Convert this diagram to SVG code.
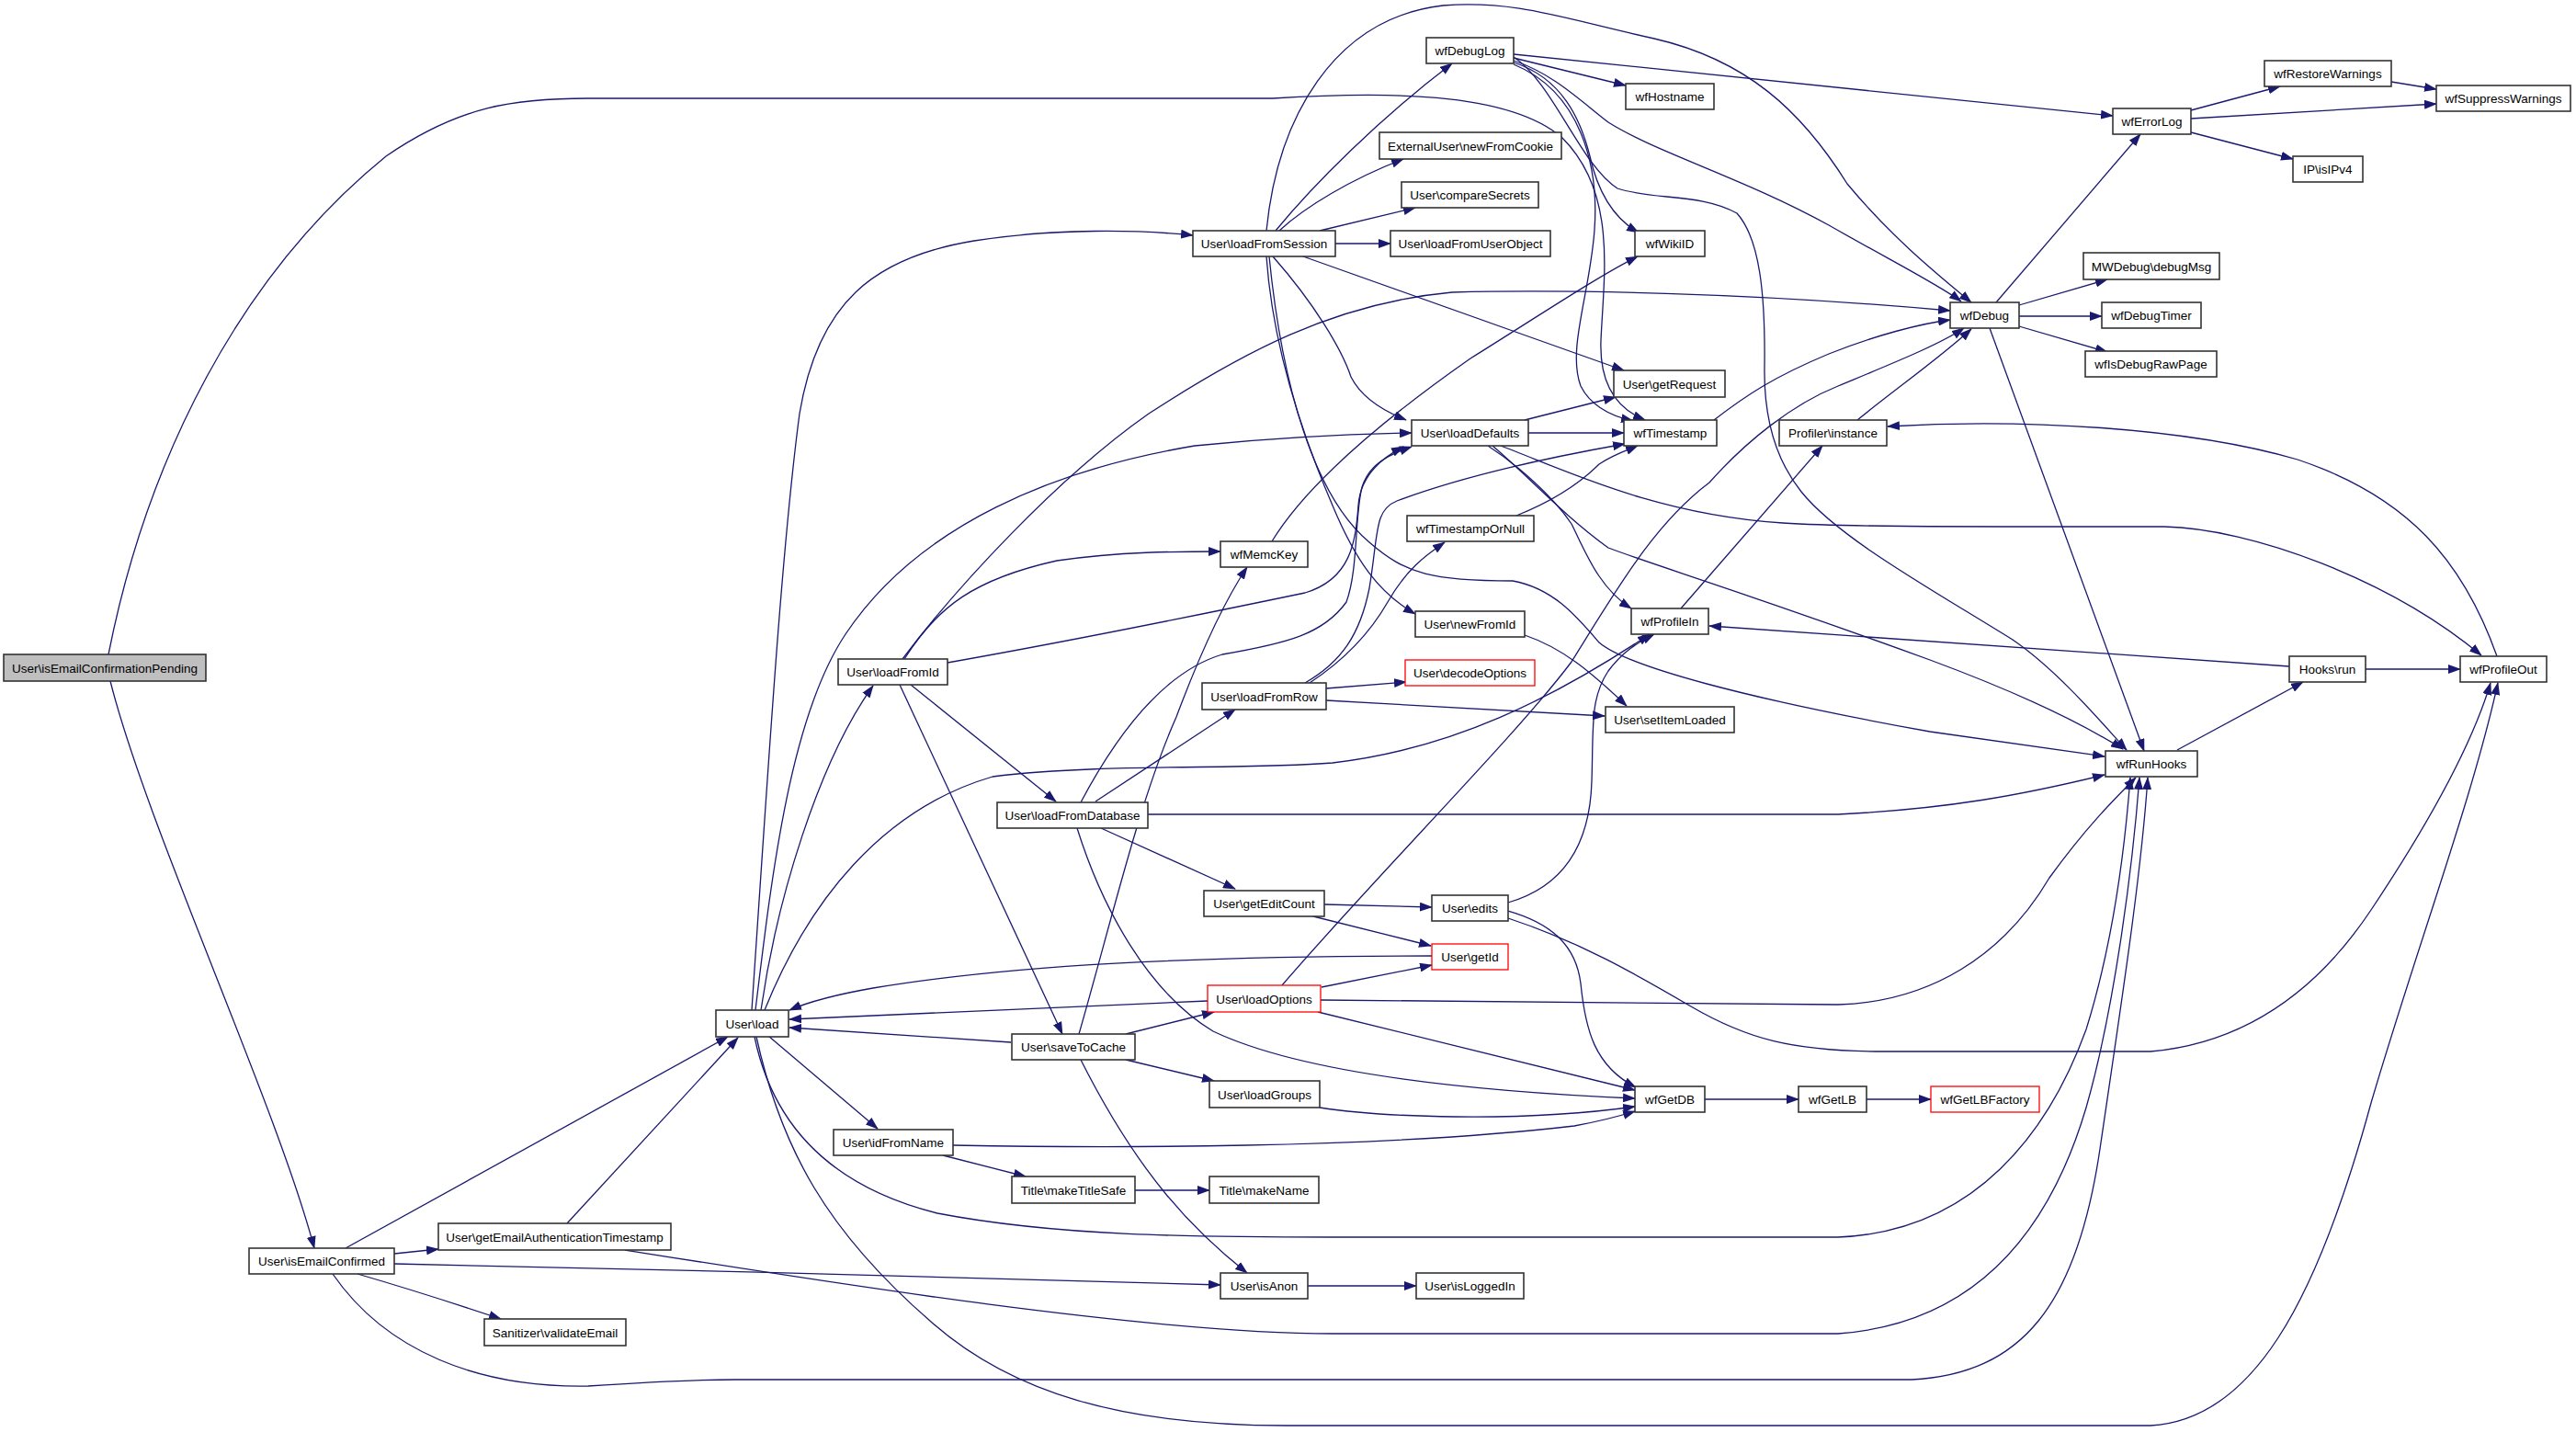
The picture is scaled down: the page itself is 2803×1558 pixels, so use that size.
<svg xmlns="http://www.w3.org/2000/svg" width="2803" height="1558" viewBox="0 0 2803 1558">
<style>
.n rect{fill:#fff;stroke:#333;stroke-width:1.6}
.n.r rect{stroke:#ff0000;stroke-width:1.3}
.n.root rect{fill:#bfbfbf}
.n text{font-family:"Liberation Sans",Arial,sans-serif;font-size:13.5px;text-anchor:middle;fill:#000}
.e path{fill:none;stroke:#191970;stroke-width:1.3;marker-end:url(#a)}
</style>
<defs>
<marker id="a" markerWidth="14" markerHeight="10" refX="13" refY="5" orient="auto" markerUnits="userSpaceOnUse"><path d="M0,0 L14,5 L0,10 z" fill="#191970"/></marker>
</defs>
<rect width="2803" height="1558" fill="#fff"/>
<g id="edges" class="e">
<path d="M118,712 C160,500 260,300 420,170 C500,115 560,107 640,107 L1385,107 C1500,100 1640,98 1700,150 C1760,210 1745,300 1742,370 C1740,420 1760,445 1790,457"/>
<path d="M120,741 C160,900 300,1200 342,1358"/>
<path d="M376,1358 L792,1128"/>
<path d="M617,1331 L803,1129"/>
<path d="M429,1364 L477,1359"/>
<path d="M429,1375 C700,1381 1100,1390 1328,1398"/>
<path d="M389,1386 C420,1395 470,1410 545,1435"/>
<path d="M362,1386 C420,1470 520,1510 640,1508 C700,1504 760,1501 800,1501 L2080,1501 C2200,1495 2260,1420 2285,1250 C2310,1080 2330,950 2337,846"/>
<path d="M680,1360 C900,1395 1250,1451 1450,1451 L2000,1451 C2150,1440 2230,1340 2270,1205 C2300,1100 2320,950 2328,846"/>
<path d="M818,1099 C835,850 850,600 870,450 C890,330 950,280 1060,262 C1150,248 1240,250 1298,256"/>
<path d="M822,1099 C840,950 860,780 920,690 C1000,570 1150,510 1300,485 C1400,475 1480,472 1536,471"/>
<path d="M828,1099 C845,980 890,830 950,746"/>
<path d="M836,1127 L955,1228"/>
<path d="M832,1099 C880,980 960,880 1080,845 C1200,830 1350,838 1450,830 C1580,815 1690,760 1795,690"/>
<path d="M821,1128 C840,1220 900,1290 1020,1320 C1150,1345 1300,1346 1450,1346 L2000,1346 C2150,1340 2230,1230 2270,1120 C2295,1040 2310,950 2318,846"/>
<path d="M823,1128 C850,1250 900,1340 1013,1438 C1100,1515 1220,1551 1400,1551 L2340,1551 C2450,1545 2520,1420 2580,1200 C2630,1030 2690,870 2718,743"/>
<path d="M1388,251 C1430,200 1500,130 1580,69"/>
<path d="M1392,251 C1420,225 1470,195 1527,173"/>
<path d="M1436,251 L1540,226"/>
<path d="M1453,265 L1513,265"/>
<path d="M1378,251 C1390,130 1450,20 1570,6 C1650,0 1700,20 1800,42 C1900,65 1960,120 2010,200 C2060,260 2110,300 2145,329"/>
<path d="M1418,279 L1767,403"/>
<path d="M1385,279 C1430,330 1460,380 1470,410 C1480,430 1500,445 1530,457"/>
<path d="M1378,279 C1385,380 1420,480 1450,550 C1475,610 1500,645 1540,668"/>
<path d="M1381,279 C1395,420 1430,540 1490,590 C1530,625 1560,632 1646,632 C1690,640 1715,670 1740,699 C1770,725 1900,760 2100,796 L2290,823"/>
<path d="M1647,63 L1769,93"/>
<path d="M1647,59 L2299,126"/>
<path d="M1647,66 C1690,80 1720,110 1750,133 C1800,165 1900,195 1990,245 C2060,285 2110,310 2134,328"/>
<path d="M1647,68 C1700,85 1720,130 1730,170 C1740,215 1760,240 1783,253"/>
<path d="M1647,70 C1720,100 1740,180 1735,250 C1730,320 1705,380 1720,420 C1730,440 1750,452 1777,458"/>
<path d="M1647,62 C1690,90 1720,180 1760,205 C1800,218 1850,210 1890,232 C1915,260 1921,320 1920,400 C1919,470 1940,510 1960,535 C2000,585 2100,640 2190,696 C2240,730 2290,790 2314,816"/>
<path d="M1031,721 C1150,700 1300,670 1420,645 C1470,630 1475,590 1478,550 C1480,520 1500,500 1527,486"/>
<path d="M984,717 C1020,660 1060,630 1150,610 C1220,600 1280,600 1328,600"/>
<path d="M982,717 C1040,640 1150,520 1250,450 C1350,385 1450,330 1580,318 C1700,315 1900,318 2122,338"/>
<path d="M991,745 L1149,872"/>
<path d="M979,745 L1156,1125"/>
<path d="M1384,589 C1420,530 1500,460 1600,390 C1680,340 1740,300 1782,279"/>
<path d="M1176,873 C1220,790 1270,730 1330,712 C1400,700 1440,690 1465,655 C1478,620 1474,560 1482,530 C1490,505 1510,495 1536,486"/>
<path d="M1192,872 L1344,772"/>
<path d="M1249,886 L2000,886 C2120,880 2200,865 2290,843"/>
<path d="M1198,901 L1344,967"/>
<path d="M1172,901 C1200,990 1250,1080 1320,1122 C1400,1160 1550,1185 1779,1195"/>
<path d="M1443,749 L1530,742"/>
<path d="M1443,762 L1746,779"/>
<path d="M1425,743 C1460,720 1490,690 1510,655 C1530,620 1550,605 1572,590"/>
<path d="M1420,743 C1460,720 1480,690 1490,640 C1500,580 1495,555 1520,545 C1600,515 1700,495 1768,483"/>
<path d="M1650,561 C1690,545 1720,525 1740,505 C1755,495 1770,490 1782,485"/>
<path d="M1659,691 C1700,705 1730,730 1770,768"/>
<path d="M1659,457 L1758,432"/>
<path d="M1663,471 L1767,471"/>
<path d="M1619,485 C1650,505 1690,540 1710,570 C1725,600 1740,640 1775,662"/>
<path d="M1624,485 C1660,515 1700,560 1750,596 C1800,615 1900,645 2100,718 C2200,755 2270,790 2310,815"/>
<path d="M1633,485 C1700,510 1800,560 1940,569 C2000,573 2100,573 2355,573 C2450,575 2600,630 2700,713"/>
<path d="M1865,457 C1900,430 1930,410 1990,385 C2040,365 2090,352 2122,348"/>
<path d="M2021,457 C2060,425 2110,390 2145,358"/>
<path d="M1395,1072 C1500,950 1650,800 1710,720 C1760,640 1800,570 1860,525 C1900,480 1950,440 2000,420 C2060,395 2110,375 2137,357"/>
<path d="M2717,714 C2680,610 2620,540 2500,500 C2380,465 2200,455 2054,464"/>
<path d="M1829,662 L1983,485"/>
<path d="M2172,329 L2329,146"/>
<path d="M2197,332 L2293,304"/>
<path d="M2197,344 L2287,344"/>
<path d="M2197,355 L2293,383"/>
<path d="M2165,357 L2333,817"/>
<path d="M2384,120 L2481,94"/>
<path d="M2384,129 L2651,113"/>
<path d="M2384,144 L2495,173"/>
<path d="M2602,89 L2651,97"/>
<path d="M2369,816 L2506,742"/>
<path d="M2574,728 L2677,728"/>
<path d="M2491,725 C2300,712 2100,697 1860,681"/>
<path d="M1441,984 L1558,987"/>
<path d="M1429,997 L1557,1029"/>
<path d="M1641,982 C1700,965 1730,920 1732,850 C1734,790 1730,760 1750,730 C1765,710 1780,700 1800,690"/>
<path d="M1641,991 C1690,1005 1715,1030 1720,1070 C1725,1120 1735,1160 1780,1183"/>
<path d="M1641,999 C1720,1025 1780,1060 1840,1095 C1900,1130 1950,1144 2050,1144 L2340,1144 C2440,1135 2520,1080 2580,990 C2640,900 2690,810 2710,743"/>
<path d="M1558,1040 C1300,1040 1100,1050 950,1075 C910,1082 880,1090 859,1099"/>
<path d="M1314,1089 L859,1109"/>
<path d="M1438,1074 L1558,1050"/>
<path d="M1437,1088 L2000,1093 C2100,1090 2180,1040 2230,955 C2270,900 2300,870 2324,846"/>
<path d="M1434,1101 L1779,1186"/>
<path d="M1100,1134 L859,1118"/>
<path d="M1225,1125 L1321,1101"/>
<path d="M1225,1153 L1321,1176"/>
<path d="M1174,1125 C1210,1000 1240,870 1280,780 C1310,700 1335,650 1357,617"/>
<path d="M1176,1153 C1240,1280 1300,1340 1357,1385"/>
<path d="M1436,1205 C1500,1215 1650,1222 1779,1204"/>
<path d="M1037,1246 C1200,1249 1500,1250 1713,1225 C1740,1220 1760,1215 1779,1209"/>
<path d="M1026,1257 L1116,1280"/>
<path d="M1235,1295 L1316,1295"/>
<path d="M1423,1399 L1541,1399"/>
<path d="M1855,1196 L1957,1196"/>
<path d="M2031,1196 L2101,1196"/>
</g>
<g id="n1" class="n root"><rect x="4" y="712" width="220" height="29"/><text x="114" y="731.5">User\isEmailConfirmationPending</text></g>
<g id="n2" class="n"><rect x="271" y="1358" width="158" height="28"/><text x="350" y="1377">User\isEmailConfirmed</text></g>
<g id="n3" class="n"><rect x="477" y="1331" width="253" height="29"/><text x="603.5" y="1350.5">User\getEmailAuthenticationTimestamp</text></g>
<g id="n4" class="n"><rect x="527" y="1435" width="154" height="29"/><text x="604" y="1454.5">Sanitizer\validateEmail</text></g>
<g id="n5" class="n"><rect x="779" y="1099" width="79" height="29"/><text x="818.5" y="1118.5">User\load</text></g>
<g id="n6" class="n"><rect x="1298" y="251" width="155" height="28"/><text x="1375.5" y="270">User\loadFromSession</text></g>
<g id="n7" class="n"><rect x="912" y="717" width="119" height="28"/><text x="971.5" y="736">User\loadFromId</text></g>
<g id="n8" class="n"><rect x="907" y="1229" width="130" height="28"/><text x="972" y="1248">User\idFromName</text></g>
<g id="n9" class="n"><rect x="1101" y="1125" width="134" height="28"/><text x="1168" y="1144">User\saveToCache</text></g>
<g id="n10" class="n"><rect x="1328" y="589" width="95" height="28"/><text x="1375.5" y="608">wfMemcKey</text></g>
<g id="n11" class="n"><rect x="1085" y="873" width="164" height="28"/><text x="1167" y="892">User\loadFromDatabase</text></g>
<g id="n12" class="n"><rect x="1308" y="743" width="135" height="29"/><text x="1375.5" y="762.5">User\loadFromRow</text></g>
<g id="n13" class="n"><rect x="1552" y="41" width="95" height="28"/><text x="1599.5" y="60">wfDebugLog</text></g>
<g id="n14" class="n"><rect x="1501" y="144" width="198" height="29"/><text x="1600" y="163.5">ExternalUser\newFromCookie</text></g>
<g id="n15" class="n"><rect x="1525" y="198" width="149" height="28"/><text x="1599.5" y="217">User\compareSecrets</text></g>
<g id="n16" class="n"><rect x="1513" y="251" width="174" height="28"/><text x="1600" y="270">User\loadFromUserObject</text></g>
<g id="n17" class="n"><rect x="1536" y="457" width="127" height="28"/><text x="1599.5" y="476">User\loadDefaults</text></g>
<g id="n18" class="n"><rect x="1531" y="561" width="138" height="28"/><text x="1600" y="580">wfTimestampOrNull</text></g>
<g id="n19" class="n"><rect x="1540" y="665" width="119" height="28"/><text x="1599.5" y="684">User\newFromId</text></g>
<g id="n20" class="n r"><rect x="1529" y="718" width="141" height="28"/><text x="1599.5" y="737">User\decodeOptions</text></g>
<g id="n21" class="n"><rect x="1310" y="969" width="131" height="28"/><text x="1375.5" y="988">User\getEditCount</text></g>
<g id="n22" class="n"><rect x="1558" y="974" width="83" height="28"/><text x="1599.5" y="993">User\edits</text></g>
<g id="n23" class="n r"><rect x="1558" y="1027" width="83" height="28"/><text x="1599.5" y="1046">User\getId</text></g>
<g id="n24" class="n r"><rect x="1314" y="1072" width="123" height="29"/><text x="1375.5" y="1091.5">User\loadOptions</text></g>
<g id="n25" class="n"><rect x="1316" y="1176" width="120" height="29"/><text x="1376" y="1195.5">User\loadGroups</text></g>
<g id="n26" class="n"><rect x="1101" y="1280" width="134" height="29"/><text x="1168" y="1299.5">Title\makeTitleSafe</text></g>
<g id="n27" class="n"><rect x="1316" y="1280" width="119" height="29"/><text x="1375.5" y="1299.5">Title\makeName</text></g>
<g id="n28" class="n"><rect x="1328" y="1385" width="95" height="28"/><text x="1375.5" y="1404">User\isAnon</text></g>
<g id="n29" class="n"><rect x="1541" y="1385" width="117" height="28"/><text x="1599.5" y="1404">User\isLoggedIn</text></g>
<g id="n30" class="n"><rect x="1769" y="91" width="96" height="28"/><text x="1817" y="110">wfHostname</text></g>
<g id="n31" class="n"><rect x="1779" y="251" width="76" height="28"/><text x="1817" y="270">wfWikiID</text></g>
<g id="n32" class="n"><rect x="1756" y="403" width="121" height="29"/><text x="1816.5" y="422.5">User\getRequest</text></g>
<g id="n33" class="n"><rect x="1767" y="457" width="101" height="28"/><text x="1817.5" y="476">wfTimestamp</text></g>
<g id="n34" class="n"><rect x="1775" y="662" width="84" height="28"/><text x="1817" y="681">wfProfileIn</text></g>
<g id="n35" class="n"><rect x="1747" y="769" width="140" height="28"/><text x="1817" y="788">User\setItemLoaded</text></g>
<g id="n36" class="n"><rect x="1779" y="1182" width="76" height="28"/><text x="1817" y="1201">wfGetDB</text></g>
<g id="n37" class="n"><rect x="1957" y="1182" width="74" height="28"/><text x="1994" y="1201">wfGetLB</text></g>
<g id="n38" class="n r"><rect x="2101" y="1182" width="118" height="28"/><text x="2160" y="1201">wfGetLBFactory</text></g>
<g id="n39" class="n"><rect x="1936" y="457" width="117" height="28"/><text x="1994.5" y="476">Profiler\instance</text></g>
<g id="n40" class="n"><rect x="2122" y="329" width="75" height="28"/><text x="2159.5" y="348">wfDebug</text></g>
<g id="n41" class="n"><rect x="2299" y="118" width="85" height="28"/><text x="2341.5" y="137">wfErrorLog</text></g>
<g id="n42" class="n"><rect x="2464" y="66" width="138" height="28"/><text x="2533" y="85">wfRestoreWarnings</text></g>
<g id="n43" class="n"><rect x="2651" y="93" width="146" height="28"/><text x="2724" y="112">wfSuppressWarnings</text></g>
<g id="n44" class="n"><rect x="2495" y="170" width="76" height="28"/><text x="2533" y="189">IP\isIPv4</text></g>
<g id="n45" class="n"><rect x="2267" y="275" width="148" height="29"/><text x="2341" y="294.5">MWDebug\debugMsg</text></g>
<g id="n46" class="n"><rect x="2287" y="329" width="108" height="28"/><text x="2341" y="348">wfDebugTimer</text></g>
<g id="n47" class="n"><rect x="2269" y="382" width="143" height="28"/><text x="2340.5" y="401">wfIsDebugRawPage</text></g>
<g id="n48" class="n"><rect x="2291" y="817" width="100" height="28"/><text x="2341" y="836">wfRunHooks</text></g>
<g id="n49" class="n"><rect x="2491" y="714" width="83" height="28"/><text x="2532.5" y="733">Hooks\run</text></g>
<g id="n50" class="n"><rect x="2677" y="714" width="94" height="28"/><text x="2724" y="733">wfProfileOut</text></g>
</svg>
